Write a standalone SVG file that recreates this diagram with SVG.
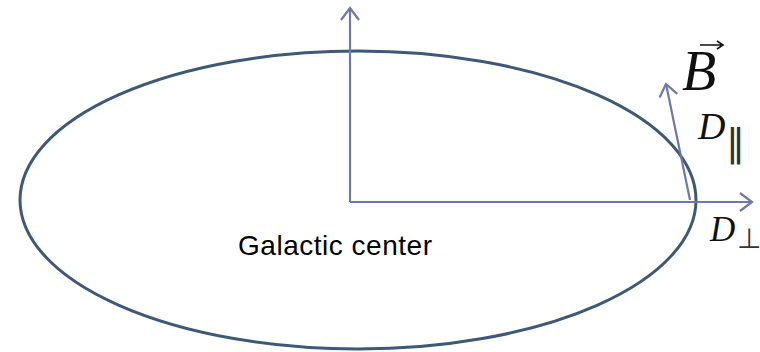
<svg xmlns="http://www.w3.org/2000/svg" width="760" height="352" viewBox="0 0 760 352">
<defs>
<style>
.axis{stroke:#6f78a8;stroke-width:2.2;fill:none}
.math{font-family:"Liberation Serif","DejaVu Serif",serif;font-style:italic;fill:#111}
.sub{font-family:"DejaVu Sans",sans-serif;font-weight:normal;fill:#333}
</style>
<marker id="ah" viewBox="0 0 20 20" refX="15" refY="10" markerWidth="20" markerHeight="20" markerUnits="userSpaceOnUse" orient="auto">
<path d="M3,1 L15,10 L3,19" fill="none" stroke="#6f78a8" stroke-width="2.2"/>
</marker>
</defs>
<rect width="760" height="352" fill="#fff"/>
<g id="galaxy">
<ellipse cx="358" cy="200" rx="338" ry="149" fill="none" stroke="#3e5977" stroke-width="3"/>
<text x="238" y="255" font-family="'Liberation Sans',Arial,sans-serif" font-size="28" textLength="194" fill="#000">Galactic center</text>
</g>
<g id="connectors">
<line class="axis" x1="350" y1="202" x2="350" y2="8" marker-end="url(#ah)"/>
<line class="axis" x1="350" y1="202" x2="752" y2="202" marker-end="url(#ah)"/>
<line class="axis" x1="690" y1="200" x2="666" y2="84" marker-end="url(#ah)"/>
</g>
<g id="labels">
<text class="math" x="682" y="90" font-size="56">B</text>
<path d="M700,45 L722,45 M717,41 L723,45 L717,49" fill="none" stroke="#111" stroke-width="1.6"/>
<text class="math" x="698" y="139" font-size="38">D</text>
<text class="sub" x="726" y="155" font-size="38">‖</text>
<text class="math" x="710" y="241" font-size="35">D</text>
<text class="sub" x="737" y="248" font-size="28">⊥</text>
</g>
</svg>
